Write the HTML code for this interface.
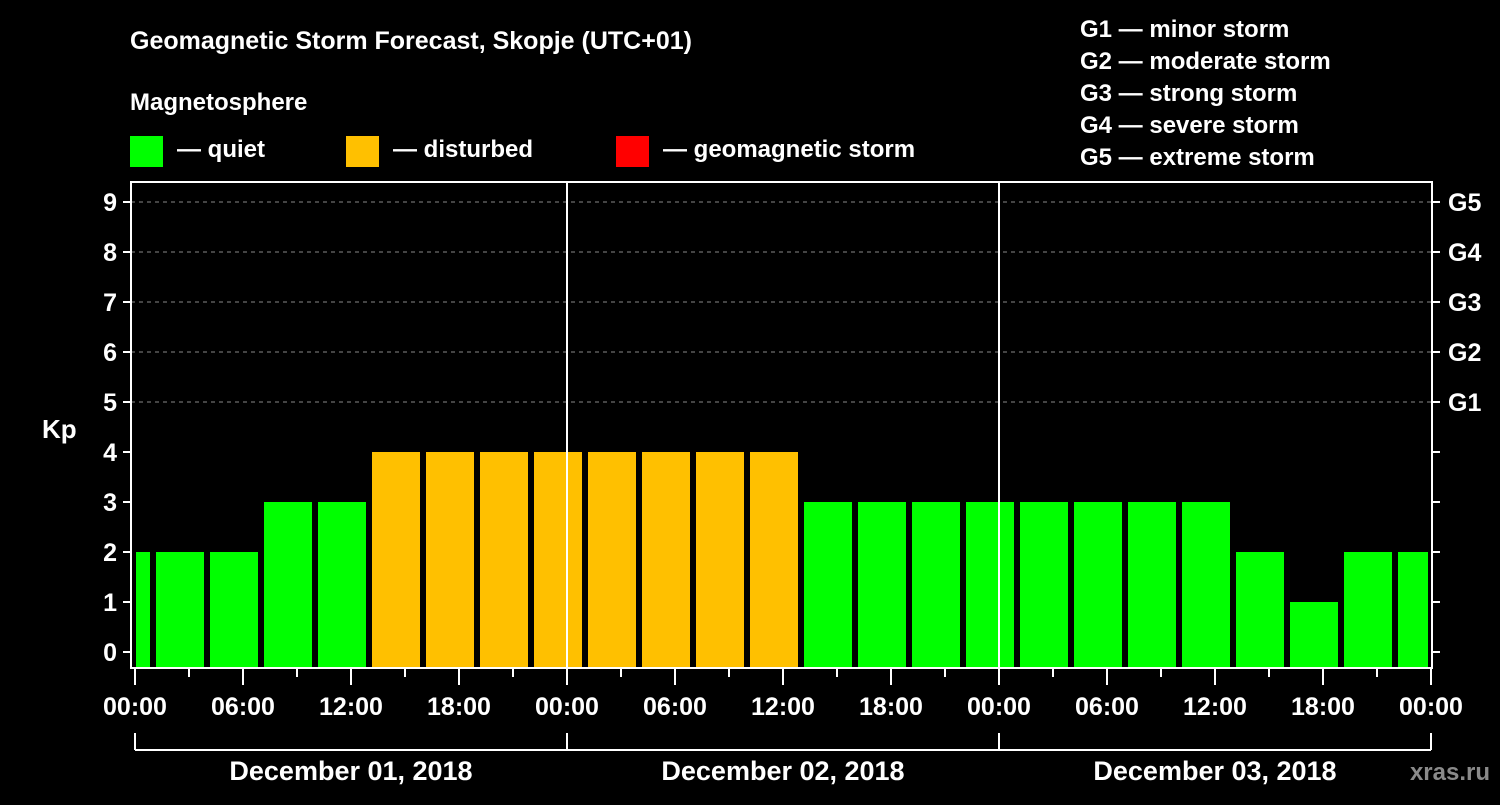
<!DOCTYPE html>
<html><head><meta charset="utf-8"><style>
body{margin:0;background:#000;width:1500px;height:800px;overflow:hidden}
svg text{font-family:"Liberation Sans",sans-serif;font-weight:bold;fill:#fff}
</style></head><body>
<svg id="c" width="1500" height="800" xmlns="http://www.w3.org/2000/svg">
<rect width="1500" height="800" fill="#000"/>
<text x="130" y="49" font-size="25">Geomagnetic Storm Forecast, Skopje (UTC+01)</text>
<text x="130" y="110" font-size="24">Magnetosphere</text>
<g><rect x="130" y="136" width="33" height="31" fill="#00ff00"/><text x="177" y="157" font-size="24">— quiet</text></g>
<g><rect x="346" y="136" width="33" height="31" fill="#ffc000"/><text x="393" y="157" font-size="24">— disturbed</text></g>
<g><rect x="616" y="136" width="33" height="31" fill="#ff0000"/><text x="663" y="157" font-size="24">— geomagnetic storm</text></g>
<g font-size="24">
<text x="1080" y="37">G1 — minor storm</text>
<text x="1080" y="69">G2 — moderate storm</text>
<text x="1080" y="101">G3 — strong storm</text>
<text x="1080" y="133">G4 — severe storm</text>
<text x="1080" y="165">G5 — extreme storm</text>
</g>
<text x="42" y="438" font-size="26">Kp</text>
<text x="1490" y="780" font-size="24" text-anchor="end" fill="#888" style="fill:#8a8a8a">xras.ru</text>
<g id="plot"></g>
</svg>
<script>
const kpValues=[2,2,2,3,3,4,4,4,4,4,4,4,4,3,3,3,3,3,3,3,3,2,1,2,2];
const yTicks=[0,1,2,3,4,5,6,7,8,9];
const gLabels=["G1","G2","G3","G4","G5"];
const timeLabels=["00:00","06:00","12:00","18:00"];
const dayLabels=["December 01, 2018","December 02, 2018","December 03, 2018"];
const startHour=-2; // first bar start, local hours from Dec 1 00:00
const NS="http://www.w3.org/2000/svg";
const L=131,R=1432,T=182,B=668,X0=135,PXH=18;
const xs=h=>X0+h*PXH;
const ys=v=>652-50*v;
const g=document.getElementById('plot');
function mk(t,a){const e=document.createElementNS(NS,t);for(const k in a)e.setAttribute(k,a[k]);g.appendChild(e);return e;}
// grid
for(let v=5;v<=9;v++){const e=mk('line',{x1:L,x2:R,y1:ys(v),y2:ys(v),stroke:'#888','stroke-dasharray':'4,4','stroke-width':1});

}
// bars
kpValues.forEach((v,i)=>{let x1=xs(startHour+3*i)+3,x2=xs(startHour+3*i+3)-3;x1=Math.max(x1,L+5);x2=Math.min(x2,R-4);
const e=mk('rect',{x:x1,y:ys(v),width:x2-x1,height:B-ys(v),fill:v>=5?'#ff0000':(v>=4?'#ffc000':'#00ff00')});

});
// day separators
for(let d=1;d<=2;d++){const e=mk('line',{x1:xs(24*d),x2:xs(24*d),y1:T,y2:B,stroke:'#fff','stroke-width':2});

}
// frame
const fr=mk('rect',{x:L,y:T,width:R-L,height:B-T,fill:'none',stroke:'#fff','stroke-width':2});


// y ticks
yTicks.forEach(v=>{mk('line',{x1:L-8,x2:L,y1:ys(v),y2:ys(v),stroke:'#fff','stroke-width':2});
mk('line',{x1:R,x2:R+8,y1:ys(v),y2:ys(v),stroke:'#fff','stroke-width':2});
const t=mk('text',{x:L-14,y:ys(v)+9,'font-size':25,'text-anchor':'end'});t.textContent=v;

});
gLabels.forEach((s,i)=>{const t=mk('text',{x:R+16,y:ys(5+i)+9,'font-size':25});t.textContent=s;

});
// x ticks
for(let h=0;h<=72;h+=3){const major=h%6===0;mk('line',{x1:xs(h),x2:xs(h),y1:B,y2:B+(major?17:9),stroke:'#fff','stroke-width':2});
if(major){const t=mk('text',{x:xs(h),y:715,'font-size':25,'text-anchor':'middle'});t.textContent=timeLabels[(h/6)%4];

}}
// date brackets
mk('line',{x1:xs(0),x2:xs(72),y1:750,y2:750,stroke:'#fff','stroke-width':2});
for(let d=0;d<=3;d++)mk('line',{x1:xs(24*d),x2:xs(24*d),y1:733,y2:750,stroke:'#fff','stroke-width':2});
dayLabels.forEach((s,i)=>{const t=mk('text',{x:xs(24*i+12),y:780,'font-size':27,'text-anchor':'middle'});t.textContent=s;

});
</script>
</body></html>
